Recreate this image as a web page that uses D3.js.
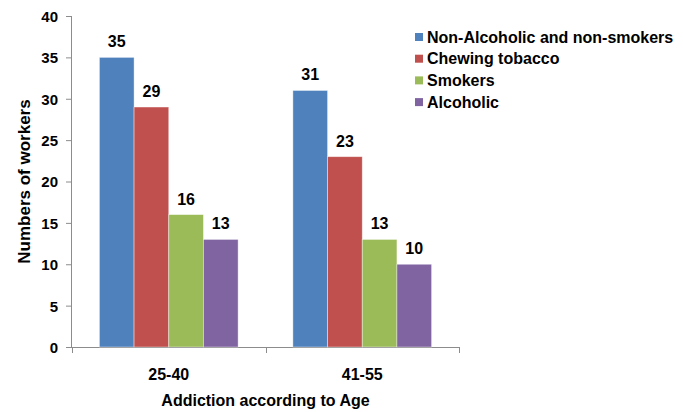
<!DOCTYPE html>
<html>
<head>
<meta charset="utf-8">
<script src="https://cdn.jsdelivr.net/npm/d3@7"></script>
<style>
  body { margin: 0; background: #fff; }
  text { font-family: "Liberation Sans", Arial, sans-serif; font-weight: bold; fill: #000; }
</style>
</head>
<body>
<div class="canvas"></div>
<script>
// data
const ageGroups = ['25-40', '41-55']
const seriesNames = ['Non-Alcoholic and non-smokers', 'Chewing tobacco', 'Smokers', 'Alcoholic']
const nonAlcoholic = [35, 31]
const chewing = [29, 23]
const smokers = [16, 13]
const alcoholic = [13, 10]
const yTicks = [0, 5, 10, 15, 20, 25, 30, 35, 40]

const seriesValues = [nonAlcoholic, chewing, smokers, alcoholic]
const colors = ['#4F81BD', '#C0504D', '#9BBB59', '#8064A2']

const width = 683
const height = 412
const margin = { top: 16, left: 72, right: 224, bottom: 65 }

const svg = d3.select('.canvas')
  .append('svg')
  .attr('width', width)
  .attr('height', height)

const x = d3.scaleBand()
  .domain(ageGroups)
  .range([margin.left, width - margin.right])

//* bars fill ~72% of each category, centred
const xInner = d3.scaleBand()
  .domain(seriesNames)
  .range([0, x.bandwidth()])
  .paddingInner(0)
  .paddingOuter(0.79)

const y = d3.scaleLinear()
  .domain([0, 40])
  .range([height - margin.bottom, margin.top])

const axisColor = '#8c8c8c'

// y axis
const yAxis = svg.append('g')
  .attr('transform', `translate(${margin.left},0)`)
  .call(d3.axisLeft(y).tickValues(yTicks).tickSize(6).tickPadding(8))
yAxis.select('.domain').attr('stroke', axisColor).attr('d', `M-0.5,${y(40)}V${y(0)}`)
yAxis.selectAll('.tick line').attr('stroke', axisColor)
yAxis.selectAll('.tick text').style('font-size', '15px').attr('dy', '0.36em')

// x axis
const xAxis = svg.append('g')
  .attr('transform', `translate(0,${y(0)})`)
xAxis.append('path')
  .attr('d', `M${margin.left},0.5H${width - margin.right}`)
  .attr('stroke', axisColor)
  .attr('fill', 'none')
const boundaries = [margin.left, ...ageGroups.map(g => x(g) + x.bandwidth())]
xAxis.selectAll('line.tk')
  .data(boundaries)
  .join('line')
  .attr('class', 'tk')
  .attr('x1', d => Math.round(d) + 0.5)
  .attr('x2', d => Math.round(d) + 0.5)
  .attr('y1', 0)
  .attr('y2', 6)
  .attr('stroke', axisColor)
xAxis.selectAll('text.cat')
  .data(ageGroups)
  .join('text')
  .attr('class', 'cat')
  .attr('x', d => x(d) + x.bandwidth() / 2)
  .attr('y', 33)
  .attr('text-anchor', 'middle')
  .style('font-size', '16px')
  .text(d => d)

// bars
const groups = svg.append('g')
  .selectAll('g')
  .data(ageGroups)
  .join('g')
  .attr('transform', d => `translate(${x(d)},0)`)

groups.each(function(g, gi) {
  const rows = seriesNames.map((name, si) => ({ name, value: seriesValues[si][gi], color: colors[si] }))
  const sel = d3.select(this)
  sel.selectAll('rect')
    .data(rows)
    .join('rect')
    .attr('x', d => xInner(d.name))
    .attr('y', d => y(d.value))
    .attr('width', xInner.bandwidth())
    .attr('height', d => y(0) - y(d.value))
    .attr('fill', d => d.color)
    .attr('stroke', 'rgba(255,255,255,0.5)')
    .attr('stroke-width', 0.8)
  sel.selectAll('text')
    .data(rows)
    .join('text')
    .attr('x', d => xInner(d.name) + xInner.bandwidth() / 2)
    .attr('y', d => y(d.value) - 10)
    .attr('text-anchor', 'middle')
    .style('font-size', '16px')
    .text(d => d.value)
})

// axis titles
svg.append('text')
  .attr('transform', `translate(30,${(y(0) + y(40)) / 2}) rotate(-90)`)
  .attr('text-anchor', 'middle')
  .style('font-size', '17px')
  .text('Numbers of workers')

svg.append('text')
  .attr('x', (margin.left + width - margin.right) / 2)
  .attr('y', 406)
  .attr('text-anchor', 'middle')
  .style('font-size', '16px')
  .text('Addiction according to Age')

// legend
const legend = svg.append('g')
  .attr('transform', 'translate(415,37)')
const items = legend.selectAll('g')
  .data(seriesNames)
  .join('g')
  .attr('transform', (d, i) => `translate(0,${i * 21.7})`)
items.append('rect')
  .attr('x', 0)
  .attr('y', -4)
  .attr('width', 8)
  .attr('height', 8)
  .attr('fill', (d, i) => colors[i])
items.append('text')
  .attr('x', 12)
  .attr('y', 0)
  .attr('dy', '0.36em')
  .style('font-size', '16px')
  .text(d => d)
</script>
</body>
</html>
